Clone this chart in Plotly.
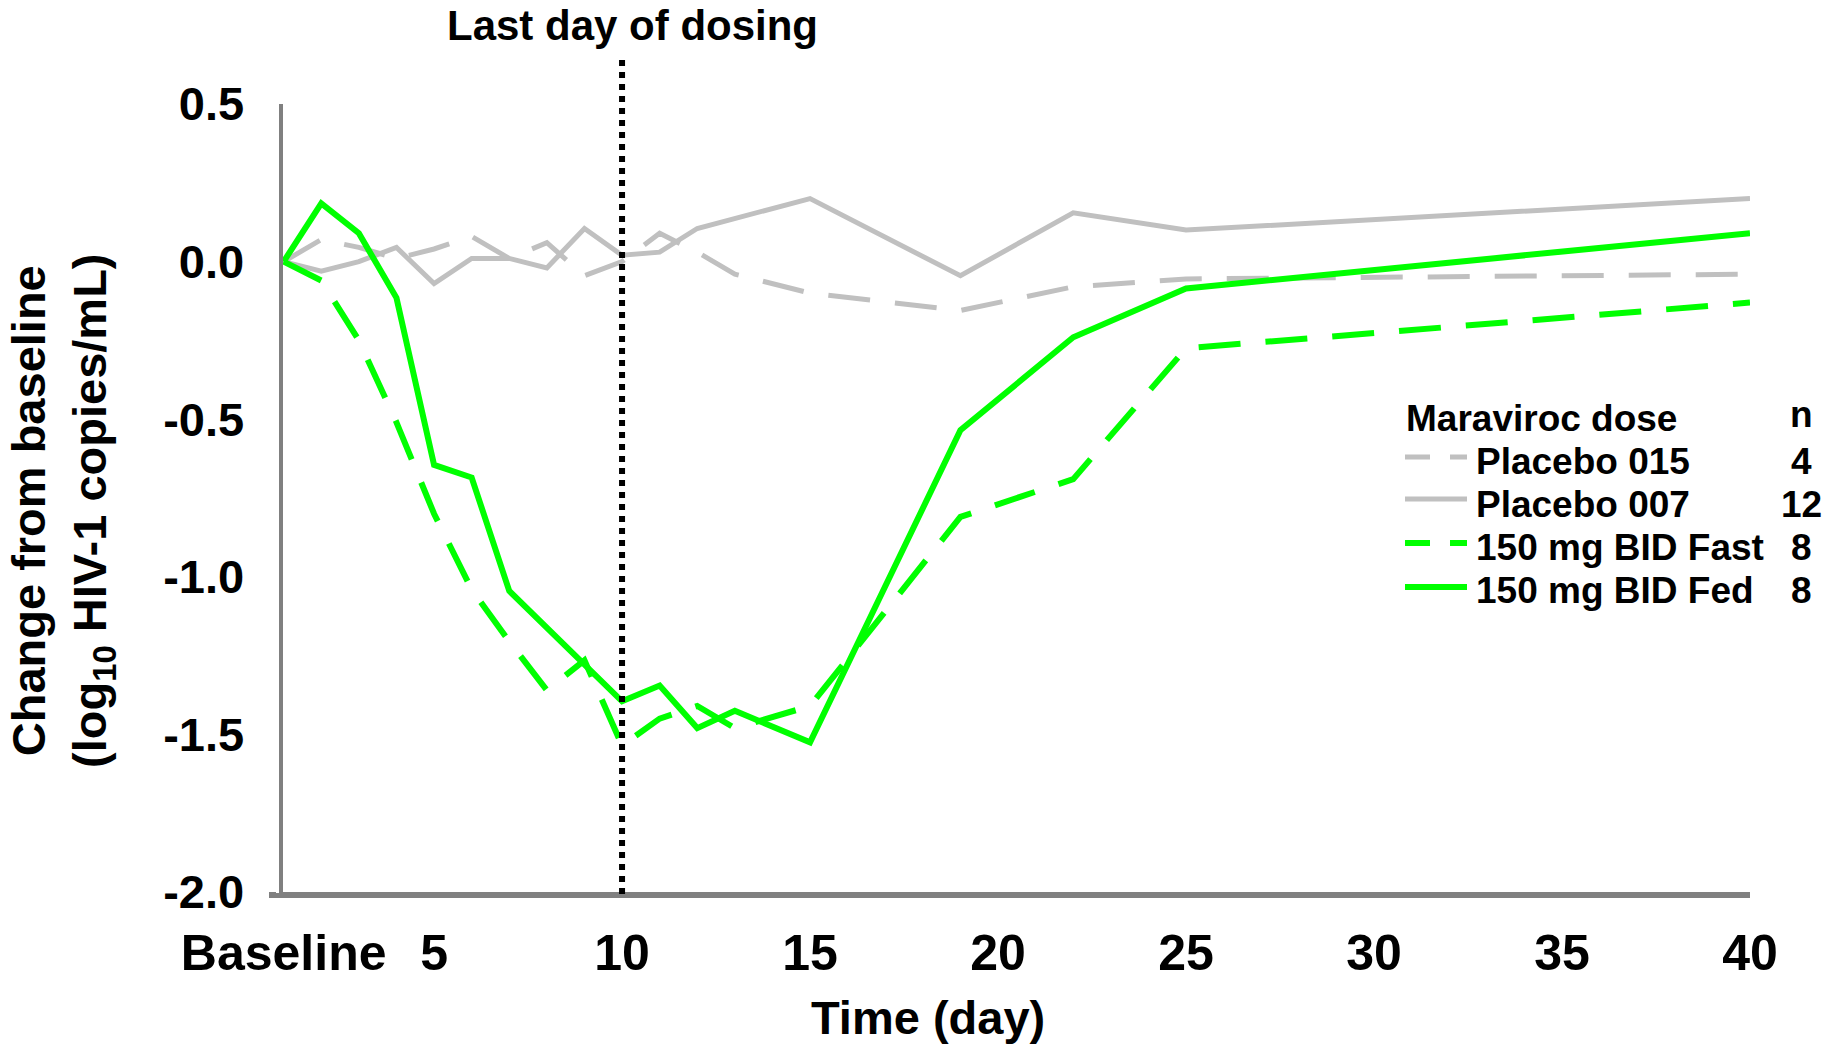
import plotly.graph_objects as go

# ---------------- data ----------------
days_p015 = [1, 2, 3, 4, 5, 6, 7, 8, 9, 10, 11, 12, 13, 15, 19, 22, 25, 40]
placebo_015 = [0, 0.07, 0.045, 0.01, 0.04, 0.08, 0.01, 0.06, -0.045, 0.0, 0.09, 0.03, -0.04, -0.10, -0.155, -0.08, -0.055, -0.04]

days_p007 = [1, 2, 3, 4, 5, 6, 7, 8, 9, 10, 11, 12, 15, 19, 22, 25, 40]
placebo_007 = [0, -0.03, 0.0, 0.045, -0.07, 0.01, 0.01, -0.02, 0.105, 0.02, 0.03, 0.105, 0.2, -0.045, 0.155, 0.1, 0.2]

days_fast = [1, 2, 3, 4, 5, 6, 7, 8, 9, 10, 11, 12, 13, 15, 19, 22, 25, 40]
bid_fast = [0, -0.06, -0.25, -0.51, -0.80, -1.04, -1.205, -1.36, -1.265, -1.535, -1.45, -1.41, -1.48, -1.41, -0.81, -0.69, -0.275, -0.13]

days_fed = [1, 2, 3, 4, 5, 6, 7, 10, 11, 12, 13, 15, 19, 22, 25, 40]
bid_fed = [0, 0.185, 0.09, -0.115, -0.645, -0.685, -1.045, -1.395, -1.345, -1.48, -1.425, -1.525, -0.535, -0.24, -0.085, 0.09]

x_tickvals = [1, 5, 10, 15, 20, 25, 30, 35, 40]
x_ticktext = ["Baseline", "5", "10", "15", "20", "25", "30", "35", "40"]
y_tickvals = [0.5, 0.0, -0.5, -1.0, -1.5, -2.0]
y_ticktext = ["0.5", "0.0", "-0.5", "-1.0", "-1.5", "-2.0"]

legend_names = ["Placebo 015", "Placebo 007", "150 mg BID Fast", "150 mg BID Fed"]
legend_n = ["4", "12", "8", "8"]
last_dose_day = 10

# ---------------- style ----------------
GRAY = "#c0c0c0"
GREEN = "#00ff00"
AXIS = "#808080"
FONT = "Liberation Sans"
DASH = "42px,25px"

W, H = 1833, 1045
L, R, T, B = 269, 83, 104, 153
PW, PH = W - L - R, H - T - B


def px(xp):
    return (xp - L) / PW


def py(yp):
    return (H - B - yp) / PH


fig = go.Figure()
series = [
    (days_p015, placebo_015, GRAY, 5, DASH),
    (days_p007, placebo_007, GRAY, 5, "solid"),
    (days_fast, bid_fast, GREEN, 6, DASH),
    (days_fed, bid_fed, GREEN, 6, "solid"),
]
for (xs, ys, col, w, d), name in zip(series, legend_names):
    fig.add_trace(go.Scatter(x=xs, y=ys, mode="lines", name=name,
                             line=dict(color=col, width=w, dash=d),
                             showlegend=False))

shapes = [dict(type="line", xref="x", yref="paper", x0=last_dose_day, x1=last_dose_day,
               y0=py(894), y1=py(60), line=dict(color="black", width=6, dash="6px,6px"))]

annotations = [
    dict(text="<b>Last day of dosing</b>", xref="paper", yref="paper",
         x=px(632), y=py(26), xanchor="center", yanchor="middle", showarrow=False,
         font=dict(family=FONT, size=42, color="black")),
    dict(text="<b>Time (day)</b>", xref="paper", yref="paper",
         x=px(928), y=py(1017), xanchor="center", yanchor="middle", showarrow=False,
         font=dict(family=FONT, size=47, color="black")),
    dict(text="<b>Change from baseline<br>(log<sub>10</sub> HIV-1 copies/mL)</b>",
         xref="paper", yref="paper", x=px(62), y=py(511), textangle=-90,
         xanchor="center", yanchor="middle", showarrow=False,
         font=dict(family=FONT, size=47, color="black")),
    dict(text="<b>Maraviroc dose</b>", xref="paper", yref="paper",
         x=px(1404), y=py(418), xanchor="left", yanchor="middle", showarrow=False,
         font=dict(family=FONT, size=37, color="black")),
    dict(text="<b>n</b>", xref="paper", yref="paper",
         x=px(1801), y=py(414), xanchor="center", yanchor="middle", showarrow=False,
         font=dict(family=FONT, size=37, color="black")),
]

row_text_y = [461, 504, 547, 590]
row_line_y = [457, 499, 543, 587]
for i, (name, n) in enumerate(zip(legend_names, legend_n)):
    col, w, d = series[i][2], series[i][3], series[i][4]
    annotations.append(dict(text=f"<b>{name}</b>", xref="paper", yref="paper",
                            x=px(1474), y=py(row_text_y[i]), xanchor="left", yanchor="middle",
                            showarrow=False, font=dict(family=FONT, size=37, color="black")))
    annotations.append(dict(text=f"<b>{n}</b>", xref="paper", yref="paper",
                            x=px(1801), y=py(row_text_y[i]), xanchor="center", yanchor="middle",
                            showarrow=False, font=dict(family=FONT, size=37, color="black")))
    shapes.append(dict(type="line", xref="paper", yref="paper",
                       x0=px(1405), x1=px(1467), y0=py(row_line_y[i]), y1=py(row_line_y[i]),
                       line=dict(color=col, width=w, dash="25px,20px" if d != "solid" else "solid")))

fig.update_layout(
    width=W, height=H, autosize=False,
    margin=dict(l=L, r=R, t=T, b=B, pad=0),
    paper_bgcolor="white", plot_bgcolor="white",
    font=dict(family=FONT, size=47, color="black", weight="bold"),
    xaxis=dict(range=[0.61, 40], showgrid=False, zeroline=False,
               showline=True, linecolor=AXIS, linewidth=6,
               tickvals=x_tickvals, ticktext=x_ticktext,
               ticks="outside", tickcolor="white", ticklen=3, tickwidth=2,
               ticklabelstandoff=9,
               tickfont=dict(family=FONT, size=50, color="black", weight="bold")),
    yaxis=dict(range=[-2.0, 0.5], anchor="free", position=px(280.6),
               showgrid=False, zeroline=False,
               showline=True, linecolor=AXIS, linewidth=4,
               tickvals=y_tickvals, ticktext=y_ticktext,
               ticks="outside", tickcolor="white", ticklen=3, tickwidth=2,
               ticklabelstandoff=22,
               tickfont=dict(family=FONT, size=47, color="black", weight="bold")),
    shapes=shapes,
    annotations=annotations,
    showlegend=False,
)

fig.write_html("out.html")
